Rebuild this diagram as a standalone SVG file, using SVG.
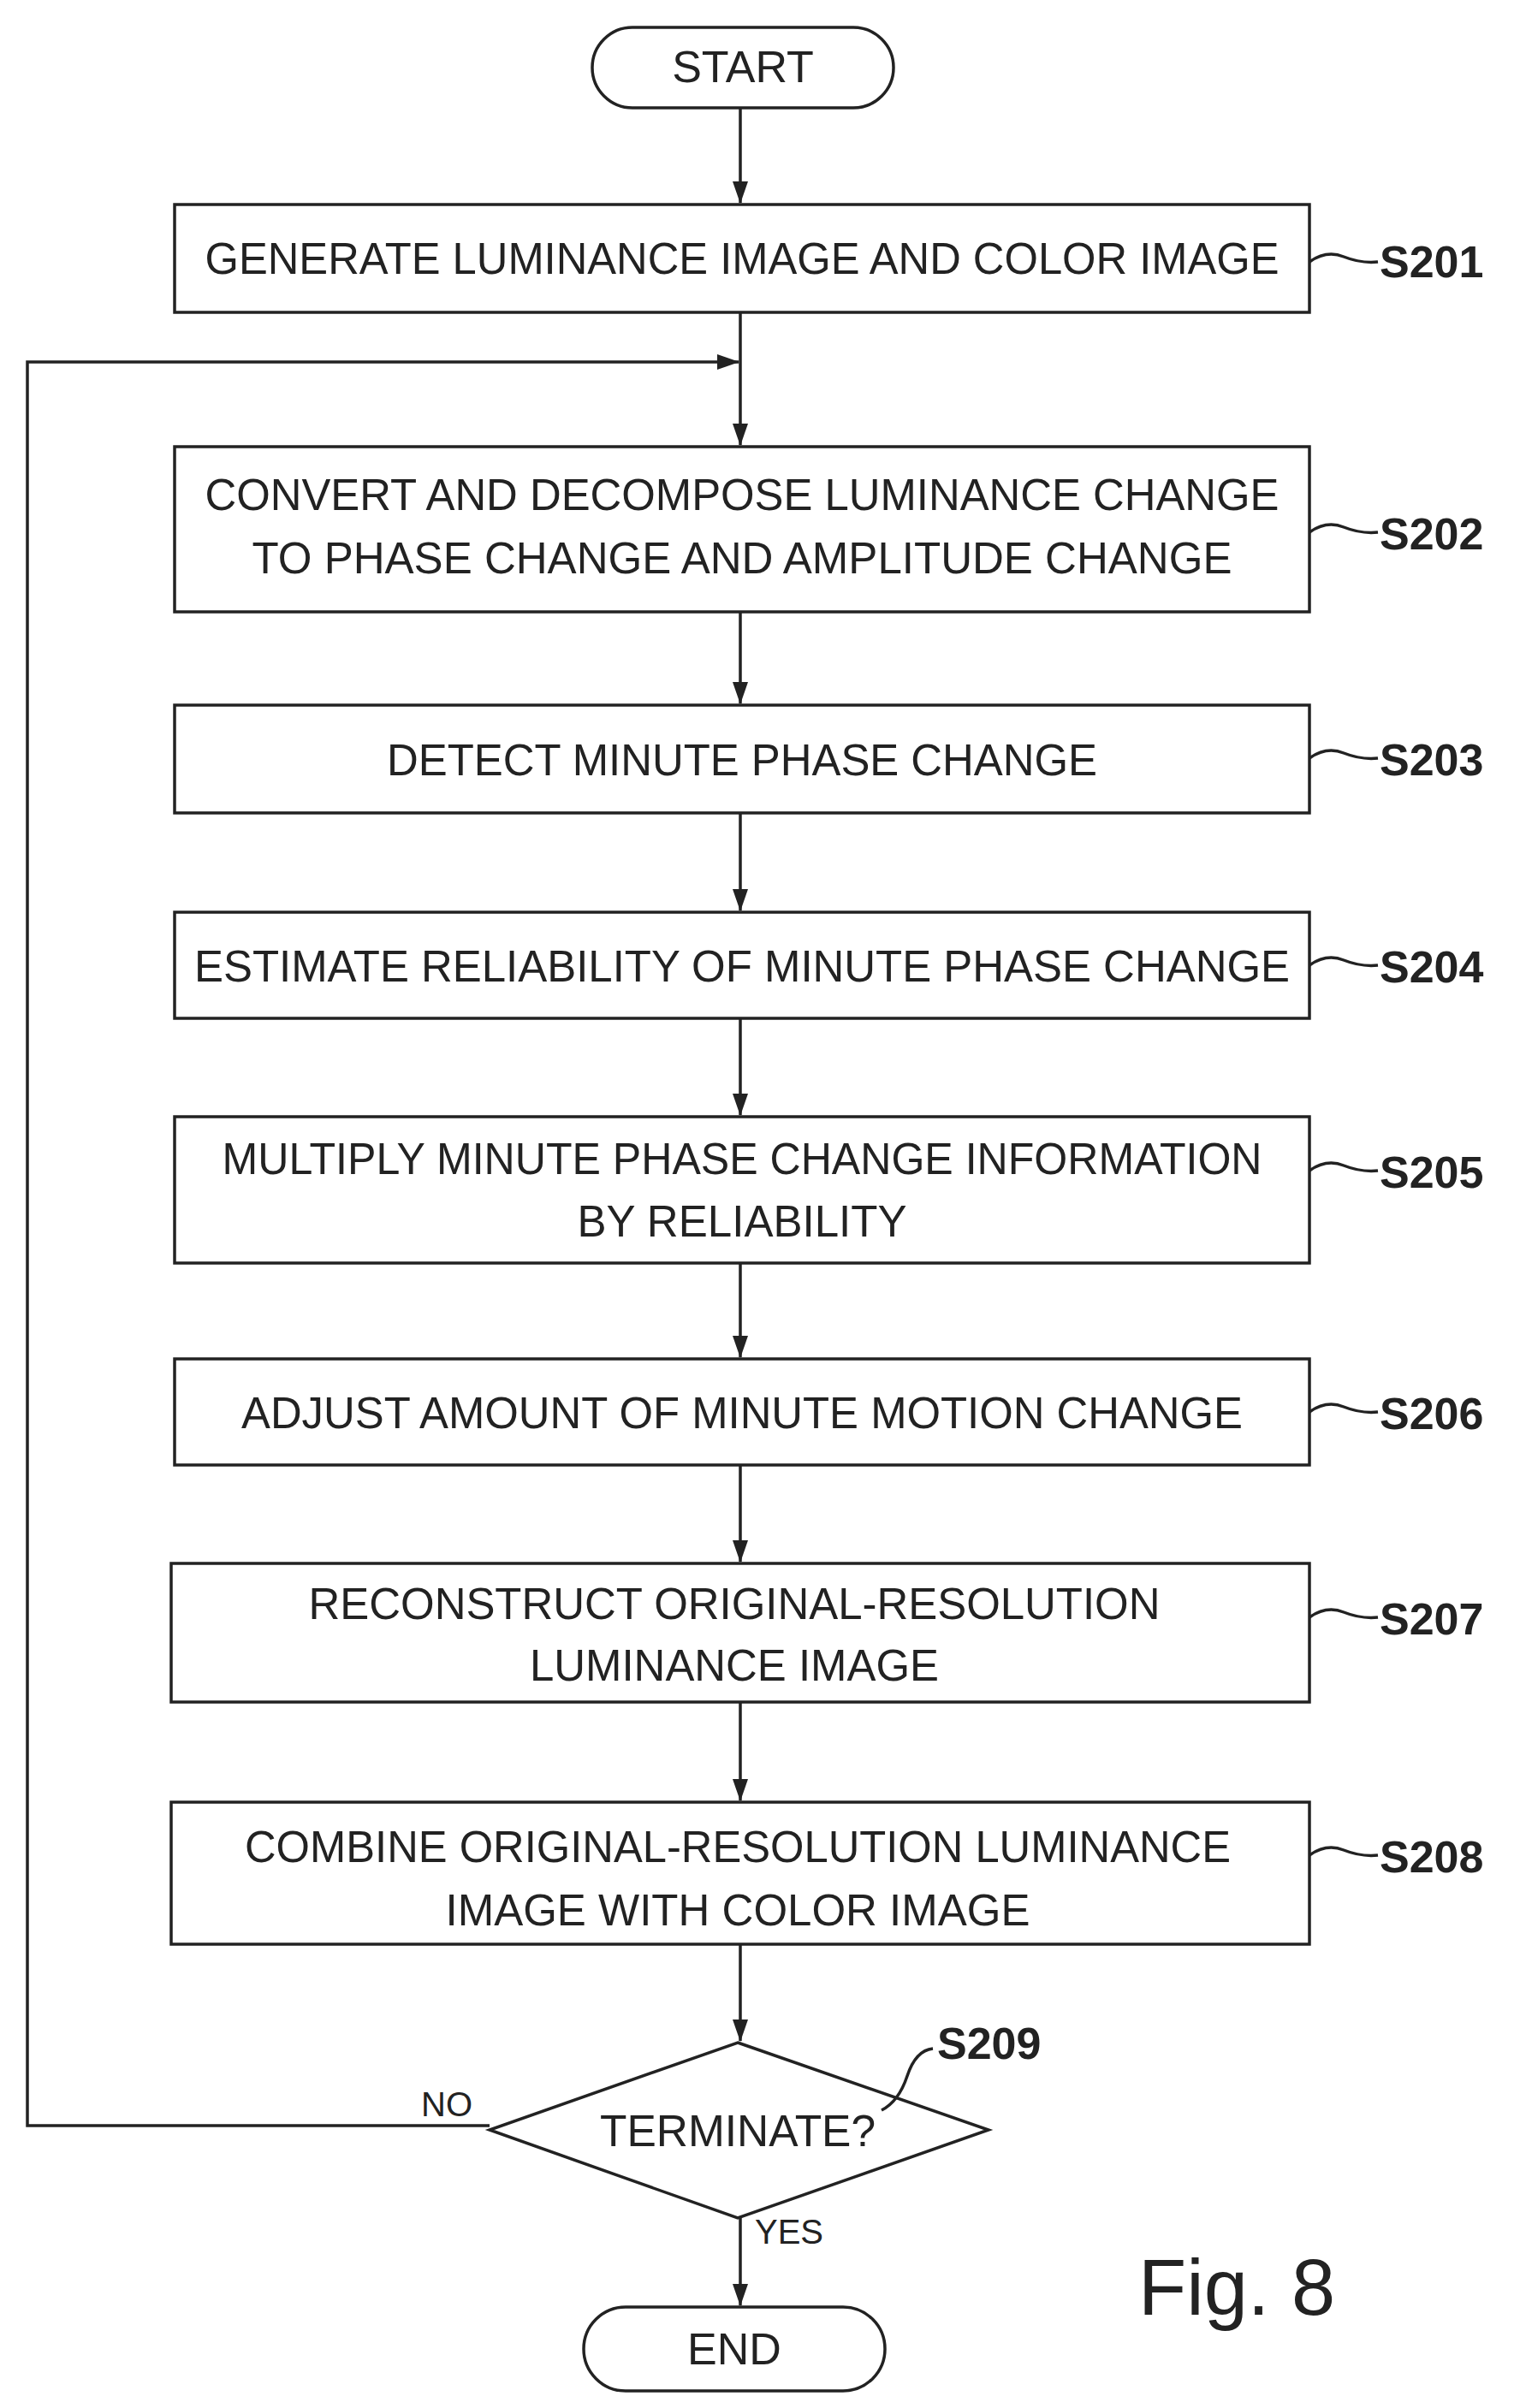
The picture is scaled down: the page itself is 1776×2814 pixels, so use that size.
<svg xmlns="http://www.w3.org/2000/svg" width="1776" height="2814" viewBox="0 0 1776 2814">
<style>
.b{fill:#fff;stroke:#222;stroke-width:3.5}
.t{font-family:"Liberation Sans",Arial,sans-serif;font-size:52px;fill:#222;text-anchor:middle}
.s{font-family:"Liberation Sans",Arial,sans-serif;font-size:52px;font-weight:bold;fill:#222}
.l{fill:none;stroke:#222;stroke-width:3.5}
</style>
<defs><marker id="a" markerWidth="26" markerHeight="18" refX="25" refY="9" orient="auto" markerUnits="userSpaceOnUse"><path d="M0,0 L26,9 L0,18 Z" fill="#222"/></marker></defs>
<rect width="1776" height="2814" fill="#fff"/>
<g id="connectors">
<line class="l" x1="865" y1="126" x2="865" y2="237" marker-end="url(#a)"/>
<line class="l" x1="865" y1="365" x2="865" y2="520" marker-end="url(#a)"/>
<line class="l" x1="865" y1="715" x2="865" y2="822" marker-end="url(#a)"/>
<line class="l" x1="865" y1="950" x2="865" y2="1064" marker-end="url(#a)"/>
<line class="l" x1="865" y1="1190" x2="865" y2="1303" marker-end="url(#a)"/>
<line class="l" x1="865" y1="1476" x2="865" y2="1586" marker-end="url(#a)"/>
<line class="l" x1="865" y1="1712" x2="865" y2="1825" marker-end="url(#a)"/>
<line class="l" x1="865" y1="1989" x2="865" y2="2104" marker-end="url(#a)"/>
<line class="l" x1="865" y1="2272" x2="865" y2="2385" marker-end="url(#a)"/>
<line class="l" x1="865" y1="2592" x2="865" y2="2694" marker-end="url(#a)"/>
<polyline class="l" points="572,2484 32,2484 32,423 863,423" marker-end="url(#a)"/>
<text class="t" x="522" y="2473" style="font-size:40px">NO</text>
<text class="t" x="922" y="2622" style="font-size:40px">YES</text>
</g>
<g id="start"><rect class="b" x="692" y="32" width="352" height="94" rx="47"/><text class="t" x="868" y="96">START</text></g>
<g id="s201"><rect class="b" x="204" y="239" width="1326" height="126"/><text class="t" x="867" y="320" textLength="1255" lengthAdjust="spacingAndGlyphs">GENERATE LUMINANCE IMAGE AND COLOR IMAGE</text>
<path class="l" d="M1530,306 q20,-14 40,-6 q20,8 40,6"/><text class="s" x="1612" y="324">S201</text></g>
<g id="s202"><rect class="b" x="204" y="522" width="1326" height="193"/>
<text class="t" x="867" y="596" textLength="1255" lengthAdjust="spacingAndGlyphs">CONVERT AND DECOMPOSE LUMINANCE CHANGE</text>
<text class="t" x="867" y="670" textLength="1145" lengthAdjust="spacingAndGlyphs">TO PHASE CHANGE AND AMPLITUDE CHANGE</text>
<path class="l" d="M1530,622 q20,-14 40,-6 q20,8 40,6"/><text class="s" x="1612" y="642">S202</text></g>
<g id="s203"><rect class="b" x="204" y="824" width="1326" height="126"/><text class="t" x="867" y="906" textLength="830" lengthAdjust="spacingAndGlyphs">DETECT MINUTE PHASE CHANGE</text>
<path class="l" d="M1530,886 q20,-14 40,-6 q20,8 40,6"/><text class="s" x="1612" y="906">S203</text></g>
<g id="s204"><rect class="b" x="204" y="1066" width="1326" height="124"/><text class="t" x="867" y="1147" textLength="1280" lengthAdjust="spacingAndGlyphs">ESTIMATE RELIABILITY OF MINUTE PHASE CHANGE</text>
<path class="l" d="M1530,1128 q20,-14 40,-6 q20,8 40,6"/><text class="s" x="1612" y="1148">S204</text></g>
<g id="s205"><rect class="b" x="204" y="1305" width="1326" height="171"/>
<text class="t" x="867" y="1372" textLength="1215" lengthAdjust="spacingAndGlyphs">MULTIPLY MINUTE PHASE CHANGE INFORMATION</text>
<text class="t" x="867" y="1445" textLength="385" lengthAdjust="spacingAndGlyphs">BY RELIABILITY</text>
<path class="l" d="M1530,1368 q20,-14 40,-6 q20,8 40,6"/><text class="s" x="1612" y="1388">S205</text></g>
<g id="s206"><rect class="b" x="204" y="1588" width="1326" height="124"/><text class="t" x="867" y="1669" textLength="1170" lengthAdjust="spacingAndGlyphs">ADJUST AMOUNT OF MINUTE MOTION CHANGE</text>
<path class="l" d="M1530,1650 q20,-14 40,-6 q20,8 40,6"/><text class="s" x="1612" y="1670">S206</text></g>
<g id="s207"><rect class="b" x="200" y="1827" width="1330" height="162"/>
<text class="t" x="858" y="1892" textLength="995" lengthAdjust="spacingAndGlyphs">RECONSTRUCT ORIGINAL-RESOLUTION</text>
<text class="t" x="858" y="1964" textLength="478" lengthAdjust="spacingAndGlyphs">LUMINANCE IMAGE</text>
<path class="l" d="M1530,1890 q20,-14 40,-6 q20,8 40,6"/><text class="s" x="1612" y="1910">S207</text></g>
<g id="s208"><rect class="b" x="200" y="2106" width="1330" height="166"/>
<text class="t" x="862" y="2176" textLength="1152" lengthAdjust="spacingAndGlyphs">COMBINE ORIGINAL-RESOLUTION LUMINANCE</text>
<text class="t" x="862" y="2250" textLength="683" lengthAdjust="spacingAndGlyphs">IMAGE WITH COLOR IMAGE</text>
<path class="l" d="M1530,2168 q20,-14 40,-6 q20,8 40,6"/><text class="s" x="1612" y="2188">S208</text></g>
<g id="s209"><polygon class="b" points="862,2387 1155,2489 862,2592 572,2489"/>
<text class="t" x="862" y="2508" textLength="322" lengthAdjust="spacingAndGlyphs">TERMINATE?</text>
<path class="l" d="M1030,2466 q20,-10 30,-40 q10,-30 30,-32"/><text class="s" x="1095" y="2406">S209</text></g>
<g id="end"><rect class="b" x="682" y="2696" width="352" height="98" rx="49"/><text class="t" x="858" y="2763">END</text></g>
<text x="1330" y="2705" style="font-family:'Liberation Sans',Arial,sans-serif;font-size:92px;fill:#222">Fig. 8</text>
</svg>
